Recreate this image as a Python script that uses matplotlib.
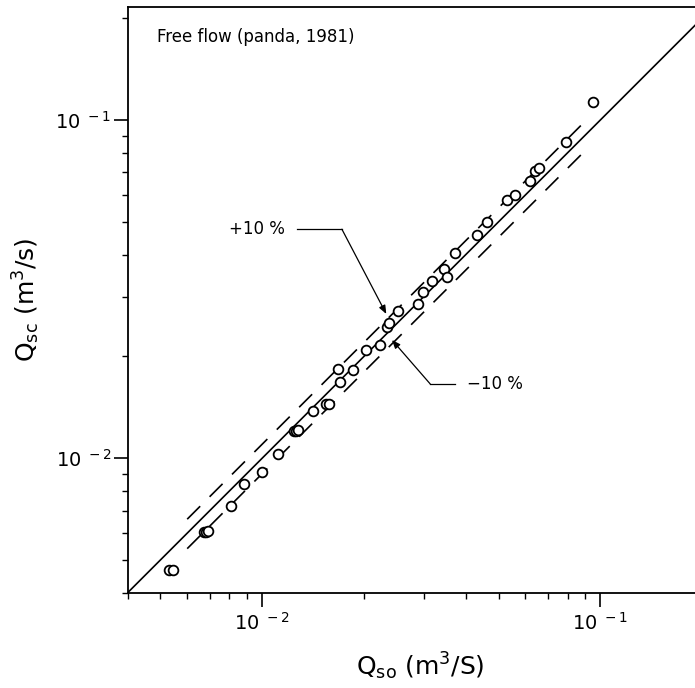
import matplotlib
matplotlib.use('Agg')
from matplotlib import pyplot as plt

# measured (Qso) vs computed (Qsc) discharge, m3/s
qso = [0.00530, 0.00545, 0.00675, 0.00683, 0.00692, 0.00810, 0.00881, 0.00998,
       0.0111, 0.0124, 0.0126, 0.0128, 0.01413, 0.0154, 0.0158, 0.01702,
       0.01681, 0.01862, 0.02026, 0.02234, 0.02338, 0.02364, 0.02514, 0.0288,
       0.02988, 0.03177, 0.03439, 0.03519, 0.03724, 0.04317, 0.04623, 0.05297,
       0.0560, 0.0620, 0.0640, 0.0660, 0.0790, 0.0952]
qsc = [0.00467, 0.00467, 0.00606, 0.00606, 0.00610, 0.00724, 0.00837, 0.00910,
       0.01027, 0.01200, 0.01206, 0.01215, 0.01377, 0.01443, 0.01443, 0.01678,
       0.01837, 0.01824, 0.0209, 0.02163, 0.02449, 0.02518, 0.0273, 0.02853,
       0.03109, 0.03343, 0.03629, 0.03429, 0.04038, 0.04574, 0.04987, 0.05805,
       0.0600, 0.0660, 0.0705, 0.0720, 0.0860, 0.1134]

lims = [0.004, 0.216]
band = [0.006, 0.09]

fig = plt.figure(figsize=(6.95, 6.88), dpi=100)
ax = fig.add_axes([0.1837, 0.1385, 0.8427, 0.8513])
ax.set_xscale('log')
ax.set_yscale('log')
ax.set_xlim(lims)
ax.set_ylim(lims)

ax.plot(lims, lims, c='black', lw=1.2, zorder=2)
ax.plot(band, [b * 1.1 for b in band], c='black', lw=1.2, ls=(0, (11, 8)), zorder=2)
ax.plot(band, [b * 0.9 for b in band], c='black', lw=1.2, ls=(0, (11, 8)), zorder=2)
ax.plot(qso, qsc, 'o', ms=7, mfc='white', mec='black', mew=1.3, zorder=3)

ax.text(0.0049, 0.17, 'Free flow (panda, 1981)', fontsize=12)

# +10 % label
ax.text(0.0117, 0.04755, '+10 %', fontsize=12, ha='right', va='center')
ax.plot([0.01267, 0.01721], [0.04755, 0.04755], c='black', lw=0.9)
ax.annotate('', xy=(0.02328, 0.0267), xytext=(0.01721, 0.04755),
            arrowprops=dict(arrowstyle='-|>,head_length=0.5,head_width=0.2',
                            lw=0.9, color='black', shrinkA=0, shrinkB=0))

# -10 % label
ax.text(0.0403, 0.01658, '\u221210 %', fontsize=12, ha='left', va='center')
ax.plot([0.0314, 0.03724], [0.01658, 0.01658], c='black', lw=0.9)
ax.annotate('', xy=(0.0242, 0.02237), xytext=(0.0314, 0.01658),
            arrowprops=dict(arrowstyle='-|>,head_length=0.5,head_width=0.2',
                            lw=0.9, color='black', shrinkA=0, shrinkB=0))

for sp in ax.spines.values():
    sp.set_linewidth(1.3)

ax.set_xticks([0.01, 0.1])
ax.set_xticklabels([r'10$^{\ -2}$', r'10$^{\ -1}$'])
ax.set_yticks([0.01, 0.1])
ax.set_yticklabels([r'10$^{\ -2}$', r'10$^{\ -1}$'])
ax.tick_params(which='major', direction='out', length=10, width=1.2, labelsize=14, pad=4)
ax.tick_params(which='minor', direction='out', length=4.5, width=1.0)
ax.tick_params(axis='x', which='minor', labelbottom=False)
ax.tick_params(axis='y', which='minor', labelleft=False)
ax.tick_params(axis='y', which='major', pad=2)

ax.set_xlabel(r'Q$_{\rm so}$ (m$^3$/S)', fontsize=18, labelpad=12)
ax.set_ylabel(r'Q$_{\rm sc}$ (m$^3$/s)', fontsize=18, labelpad=10)

fig.savefig('out.png', dpi=100)
